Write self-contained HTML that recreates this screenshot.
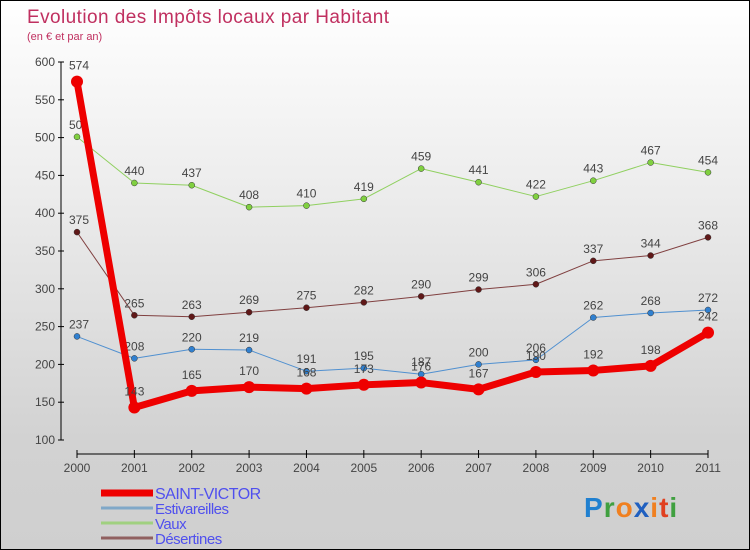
<!DOCTYPE html>
<html><head><meta charset="utf-8"><style>
body{margin:0}
#c{width:750px;height:550px;position:relative;box-sizing:border-box;border:1px solid #000;background:linear-gradient(#fff,#ececec 35%,#d2d2d2 80%,#cfcfcf);font-family:"Liberation Sans",sans-serif;overflow:hidden}
svg{position:absolute;left:0;top:0}
</style></head><body>
<div id="c">
<svg id="s" width="750" height="550">
<text x="26" y="22" font-size="19" fill="#c03060" textLength="362">Evolution des Impôts locaux par Habitant</text>
<text x="26" y="39" font-size="11" fill="#c03060">(en € et par an)</text>
</svg>
</div>
<script>
const years=["2000","2001","2002","2003","2004","2005","2006","2007","2008","2009","2010","2011"];
const yTicks=[100,150,200,250,300,350,400,450,500,550,600];
const saintVictor=[574,143,165,170,168,173,176,167,190,192,198,242];
const estivareilles=[237,208,220,219,191,195,187,200,206,262,268,272];
const vaux=[501,440,437,408,410,419,459,441,422,443,467,454];
const desertines=[375,265,263,269,275,282,290,299,306,337,344,368];
const svg=document.getElementById('s');const NS='http://www.w3.org/2000/svg';
function X(i){return 76+i*(707-76)/11}
function Y(v){return 439-(v-100)*(439-61)/500}
function mk(t,a,p){const e=document.createElementNS(NS,t);for(const k in a)e.setAttribute(k,a[k]);(p||svg).appendChild(e);return e}
let ax=mk('line',{x1:60,y1:61,x2:60,y2:439,stroke:'#000','stroke-width':1});

let bx=mk('line',{x1:76,y1:453,x2:707,y2:453,stroke:'#000','stroke-width':1});

yTicks.forEach(v=>{mk('line',{x1:57,x2:63,y1:Y(v),y2:Y(v),stroke:'#000'});
 const t=mk('text',{x:54,y:Y(v)+4,'text-anchor':'end','font-size':12,fill:'#444'});t.textContent=v;
 });
years.forEach((y,i)=>{mk('line',{x1:X(i),x2:X(i),y1:449,y2:457,stroke:'#000'});
 const t=mk('text',{x:X(i),y:471,'text-anchor':'middle','font-size':12,fill:'#444'});t.textContent=y;
 });
function series(data,color,dot,w,r,name){
 const g=mk('g',{});
 mk('polyline',{points:data.map((v,i)=>X(i)+','+Y(v)).join(' '),fill:'none',stroke:color,'stroke-width':w,'stroke-linejoin':'round'},g);
 data.forEach((v,i)=>{const c=mk('circle',{cx:X(i),cy:Y(v),r:r,fill:dot,stroke:r>4?'none':'#333','stroke-width':0.5},g);
  
  const t=mk('text',{x:X(i)+(i==0?2:0),y:Y(v)-(r>4?12:8),'text-anchor':'middle','font-size':12,fill:'#444'},g);t.textContent=v;
  });
}
series(vaux,'#90d060','#80d040',1,3,'vaux');
series(desertines,'#804040','#601818',1,3,'desertines');
series(estivareilles,'#5090d0','#3080d0',1,3,'estivareilles');
series(saintVictor,'#ee0000','#ee0000',7,6,'saint-victor');
const leg=[['SAINT-VICTOR','#ee0000',7],['Estivareilles','#80a8c8',3],['Vaux','#a0d080',3],['Désertines','#906060',3]];
leg.forEach((l,i)=>{const y=492+i*15;
 mk('rect',{x:100,y:y-l[2]/2,width:52,height:l[2],fill:l[1]});
 const t=mk('text',{x:154,y:y+6,'font-size':i==0?16:15,fill:'#5050ee','letter-spacing':'-0.5'});t.textContent=l[0];
 });
const lg=mk('text',{x:583,y:516,'font-size':28,'font-weight':'bold','letter-spacing':'1'});

[['P','#2080d0'],['r','#40a040'],['o','#f08020'],['x','#2060c0'],['i','#f08020'],['t','#e04020'],['i','#40a040']].forEach(p=>{const s=mk('tspan',{fill:p[1]},lg);s.textContent=p[0];});
</script>
</body></html>
